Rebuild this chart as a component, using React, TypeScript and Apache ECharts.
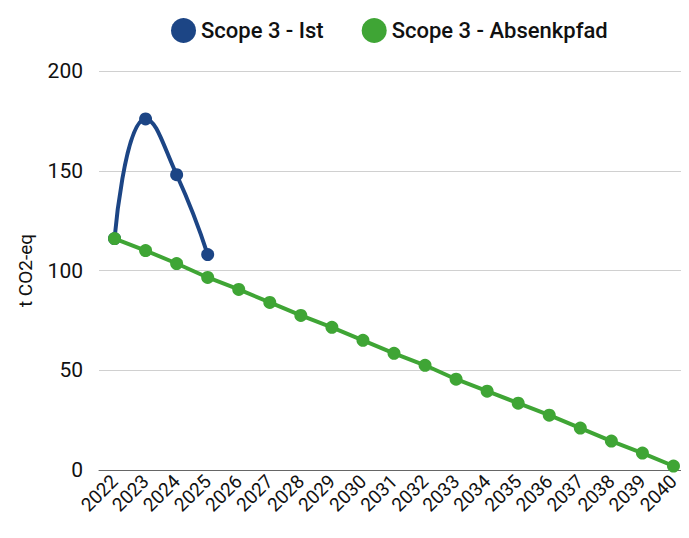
import React, { useEffect, useRef } from "react";
import * as echarts from "echarts";

const years = ["2022","2023","2024","2025","2026","2027","2028","2029","2030","2031","2032","2033","2034","2035","2036","2037","2038","2039","2040"];
const istValues = [116, 176, 148, 108];
const pfadValues = [116, 110, 103.5, 96.5, 90.5, 84, 77.5, 71.5, 65, 58.5, 52.5, 45.5, 39.5, 33.5, 27.5, 21, 14.5, 8.5, 2];
const yTicks = { min: 0, max: 200, interval: 50 };

const FONT = "Roboto, 'DejaVu Sans', sans-serif";
const BLUE = "#1c4585";
const GREEN = "#3fa535";

export default function App() {
  const ref = useRef<HTMLDivElement>(null);
  useEffect(() => {
    if (!ref.current) return;
    const chart = echarts.init(ref.current, undefined, { renderer: "svg" });
    chart.setOption({
      animation: false,
      textStyle: { fontFamily: FONT },
      legend: {
        top: 5,
        left: 158,
        itemWidth: 25,
        itemHeight: 25,
        itemGap: 38,
        icon: "circle",
        textStyle: { fontSize: 22, fontWeight: 500, color: "#111", fontFamily: FONT },
        data: ["Scope 3 - Ist", "Scope 3 - Absenkpfad"],
      },
      grid: { left: 88, right: -6, top: 63, bottom: 60, containLabel: false },
      xAxis: {
        type: "category",
        data: years,
        boundaryGap: true,
        axisLine: { lineStyle: { color: "#666", width: 1 } },
        axisTick: { show: false },
        axisLabel: { rotate: 45, fontSize: 19, color: "#111", margin: 8, interval: 0, fontFamily: FONT },
      },
      yAxis: {
        type: "value",
        min: yTicks.min,
        max: yTicks.max,
        interval: yTicks.interval,
        name: "t CO2-eq",
        nameLocation: "middle",
        nameGap: 64,
        nameRotate: 90,
        nameTextStyle: { fontSize: 19, color: "#111", fontFamily: FONT },
        axisLine: { show: false },
        axisTick: { show: false },
        axisLabel: { fontSize: 21, color: "#111", margin: 16, fontFamily: FONT },
        splitLine: { lineStyle: { color: "#d0d0d0", width: 1 } },
      },
      series: [
        {
          name: "Scope 3 - Ist",
          type: "line",
          data: istValues,
          smooth: 0.5,
          symbol: "circle",
          symbolSize: 13,
          itemStyle: { color: BLUE },
          lineStyle: { color: BLUE, width: 4 },
          z: 2,
        },
        {
          name: "Scope 3 - Absenkpfad",
          type: "line",
          data: pfadValues,
          symbol: "circle",
          symbolSize: 13,
          itemStyle: { color: GREEN },
          lineStyle: { color: GREEN, width: 4 },
          z: 3,
        },
      ],
    });
    return () => chart.dispose();
  }, []);
  return <div ref={ref} style={{ width: 681, height: 522 }} />;
}
